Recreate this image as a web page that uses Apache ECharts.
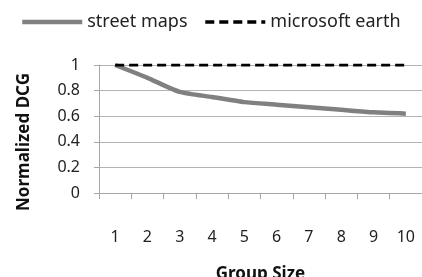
<!DOCTYPE html>
<html>
<head>
<meta charset="utf-8">
<script src="https://cdn.jsdelivr.net/npm/echarts@6/dist/echarts.min.js"></script>
<style>
  html, body { margin: 0; padding: 0; background: #fff; }
  #chart { width: 422px; height: 277px; }
</style>
</head>
<body>
<div id="chart"></div>
<script>
// data
const groupSizes = ['1', '2', '3', '4', '5', '6', '7', '8', '9', '10']
const streetMaps = [1, 0.9, 0.79, 0.75, 0.71, 0.69, 0.67, 0.65, 0.63, 0.62]
const microsoftEarth = [1, 1, 1, 1, 1, 1, 1, 1, 1, 1]

const font = 'Noto Sans'
const chart = echarts.init(document.getElementById('chart'))

chart.setOption({
  animation: false,
  textStyle: { fontFamily: font },
  legend: {
    left: 15,
    top: 8,
    itemWidth: 60,
    itemHeight: 14,
    itemGap: 16,
    itemStyle: { opacity: 0 },
    textStyle: { fontSize: 18, color: '#222' },
    data: [
      { name: 'street maps', lineStyle: { width: 4.5, color: '#808080' } },
      { name: 'microsoft earth', lineStyle: { width: 3.5, color: '#000', type: [9, 5] } }
    ]
  },
  grid: { left: 99, right: 0, top: 65, bottom: 84, outerBoundsMode: 'none' },
  xAxis: {
    type: 'category',
    data: groupSizes,
    boundaryGap: true,
    name: 'Group Size',
    nameLocation: 'middle',
    nameGap: 73,
    nameTextStyle: { fontSize: 17, fontWeight: 'bold', color: '#111' },
    axisLine: { lineStyle: { color: '#a6a6a6', width: 1 } },
    axisTick: { show: true, length: 6, alignWithLabel: false, lineStyle: { color: '#a6a6a6' } },
    axisLabel: { fontSize: 16, color: '#222', margin: 36 },
    splitLine: { show: false }
  },
  yAxis: {
    type: 'value',
    min: 0,
    max: 1,
    interval: 0.2,
    name: 'Normalized DCG',
    nameLocation: 'middle',
    nameGap: 66,
    nameTextStyle: { fontSize: 17, fontWeight: 'bold', color: '#111', padding: [0, 26, 0, 0] },
    axisLine: { show: true, lineStyle: { color: '#a6a6a6', width: 1 } },
    axisTick: { show: true, length: 5, lineStyle: { color: '#a6a6a6' } },
    axisLabel: { fontSize: 16, color: '#222', margin: 19 },
    splitLine: { lineStyle: { color: '#b3b3b3', width: 1 } }
  },
  series: [
    {
      name: 'street maps',
      type: 'line',
      data: streetMaps,
      symbol: 'none',
      smooth: 0.2,
      lineStyle: { color: '#808080', width: 4.5 },
      itemStyle: { color: '#808080' }
    },
    {
      name: 'microsoft earth',
      type: 'line',
      data: microsoftEarth,
      symbol: 'none',
      lineStyle: { color: '#000', width: 3, type: [9, 5] },
      itemStyle: { color: '#000' }
    }
  ]
})
</script>
</body>
</html>
